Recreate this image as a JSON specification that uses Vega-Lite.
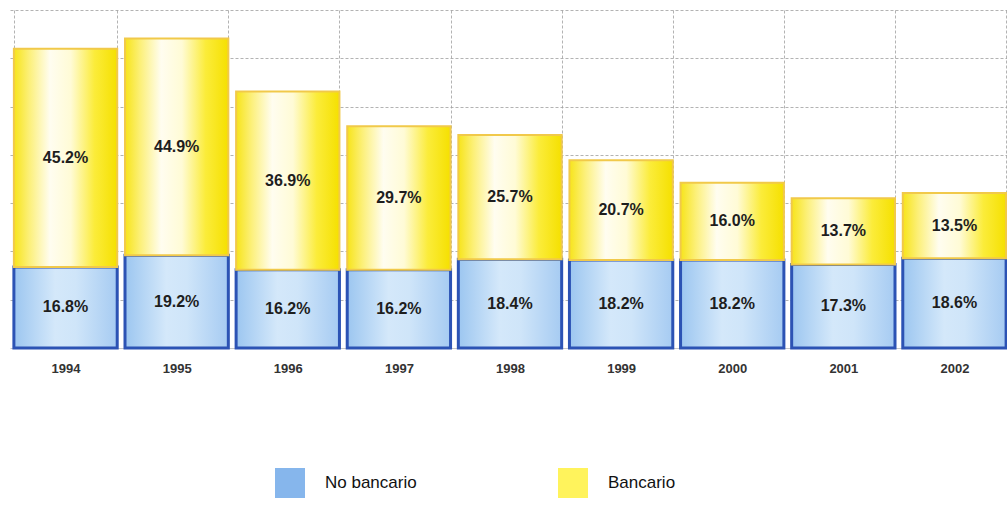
{
  "$schema": "https://vega.github.io/schema/vega-lite/v6.json",
  "width": 1000,
  "height": 338,
  "autosize": {"type": "none"},
  "padding": {"left": 10, "top": 10, "right": 0, "bottom": 161},
  "background": "white",
  "config": {"view": {"stroke": null}, "font": "Liberation Sans"},
  "data": {
    "values": [
      {"year": "1994", "serie": "No bancario", "orden": 1, "value": 16.8},
      {"year": "1994", "serie": "Bancario", "orden": 2, "value": 45.2},
      {"year": "1995", "serie": "No bancario", "orden": 1, "value": 19.2},
      {"year": "1995", "serie": "Bancario", "orden": 2, "value": 44.9},
      {"year": "1996", "serie": "No bancario", "orden": 1, "value": 16.2},
      {"year": "1996", "serie": "Bancario", "orden": 2, "value": 36.9},
      {"year": "1997", "serie": "No bancario", "orden": 1, "value": 16.2},
      {"year": "1997", "serie": "Bancario", "orden": 2, "value": 29.7},
      {"year": "1998", "serie": "No bancario", "orden": 1, "value": 18.4},
      {"year": "1998", "serie": "Bancario", "orden": 2, "value": 25.7},
      {"year": "1999", "serie": "No bancario", "orden": 1, "value": 18.2},
      {"year": "1999", "serie": "Bancario", "orden": 2, "value": 20.7},
      {"year": "2000", "serie": "No bancario", "orden": 1, "value": 18.2},
      {"year": "2000", "serie": "Bancario", "orden": 2, "value": 16.0},
      {"year": "2001", "serie": "No bancario", "orden": 1, "value": 17.3},
      {"year": "2001", "serie": "Bancario", "orden": 2, "value": 13.7},
      {"year": "2002", "serie": "No bancario", "orden": 1, "value": 18.6},
      {"year": "2002", "serie": "Bancario", "orden": 2, "value": 13.5}
    ]
  },
  "transform": [
    {"stack": "value", "groupby": ["year"], "sort": [{"field": "orden", "order": "ascending"}], "as": ["y0", "y1"]},
    {"calculate": "(datum.y0 + datum.y1) / 2", "as": "ymid"},
    {"calculate": "format(datum.value, '.1f') + '%'", "as": "etiqueta"}
  ],
  "encoding": {
    "x": {
      "field": "year",
      "type": "ordinal",
      "title": null,
      "scale": {"paddingInner": 0.07, "paddingOuter": 0.035},
      "axis": {
        "labelAngle": 0,
        "labelFontSize": 13,
        "labelFontWeight": "bold",
        "labelColor": "#333333",
        "labelPadding": 14,
        "ticks": false,
        "domain": true,
        "domainColor": "#c8c8c8",
        "grid": true,
        "tickBand": "extent",
        "gridColor": "#a0a0a0",
        "gridDash": [3, 2],
        "gridWidth": 0.8
      }
    }
  },
  "layer": [
    {
      "mark": {"type": "bar"},
      "encoding": {
        "y": {
          "field": "y0",
          "type": "quantitative",
          "title": null,
          "scale": {"domain": [0, 70], "nice": false},
          "axis": {
            "values": [10, 20, 30, 40, 50, 60, 70],
            "labels": false,
            "ticks": false,
            "domain": false,
            "grid": true,
            "gridColor": "#a0a0a0",
            "gridDash": [3, 2],
            "gridWidth": 0.8
          }
        },
        "y2": {"field": "y1"},
        "color": {
          "field": "serie",
          "type": "nominal",
          "scale": {"domain": ["No bancario", "Bancario"], "range": ["#86b6ec", "#fff35c"]},
          "legend": {
            "orient": "none",
            "legendX": 265,
            "legendY": 458,
            "direction": "horizontal",
            "title": null,
            "symbolType": "square",
            "symbolSize": 900,
            "symbolStrokeWidth": 0,
            "symbolOpacity": 1,
            "labelFontSize": 17,
            "labelFont": "Liberation Sans",
            "labelColor": "#111111",
            "labelOffset": 20,
            "columnPadding": 141
          }
        }
      }
    },
    {
      "transform": [{"filter": "datum.serie === 'No bancario'"}],
      "mark": {
        "type": "bar",
        "fill": {
          "gradient": "linear",
          "x1": 0, "x2": 1, "y1": 0, "y2": 0,
          "stops": [
            {"offset": 0, "color": "#9cc6f0"},
            {"offset": 0.4, "color": "#d4e8fa"},
            {"offset": 0.6, "color": "#cfe5f9"},
            {"offset": 1, "color": "#a6cbf2"}
          ]
        },
        "stroke": "#2c53b4",
        "strokeWidth": 3
      },
      "encoding": {
        "y": {"field": "y0", "type": "quantitative"},
        "y2": {"field": "y1"}
      }
    },
    {
      "transform": [{"filter": "datum.serie === 'Bancario'"}],
      "mark": {
        "type": "bar",
        "fill": {
          "gradient": "linear",
          "x1": 0, "x2": 1, "y1": 0, "y2": 0,
          "stops": [
            {"offset": 0, "color": "#f7e41a"},
            {"offset": 0.15, "color": "#fcf07a"},
            {"offset": 0.35, "color": "#fffdf0"},
            {"offset": 0.55, "color": "#fffbd6"},
            {"offset": 0.78, "color": "#fbec3a"},
            {"offset": 1, "color": "#f5e000"}
          ]
        },
        "stroke": "#f1c94a",
        "strokeWidth": 2
      },
      "encoding": {
        "y": {"field": "y0", "type": "quantitative"},
        "y2": {"field": "y1"}
      }
    },
    {
      "mark": {"type": "text", "fontSize": 16, "fontWeight": "bold", "font": "Liberation Sans", "color": "#1e1e1e"},
      "encoding": {
        "y": {"field": "ymid", "type": "quantitative"},
        "text": {"field": "etiqueta"}
      }
    }
  ]
}
